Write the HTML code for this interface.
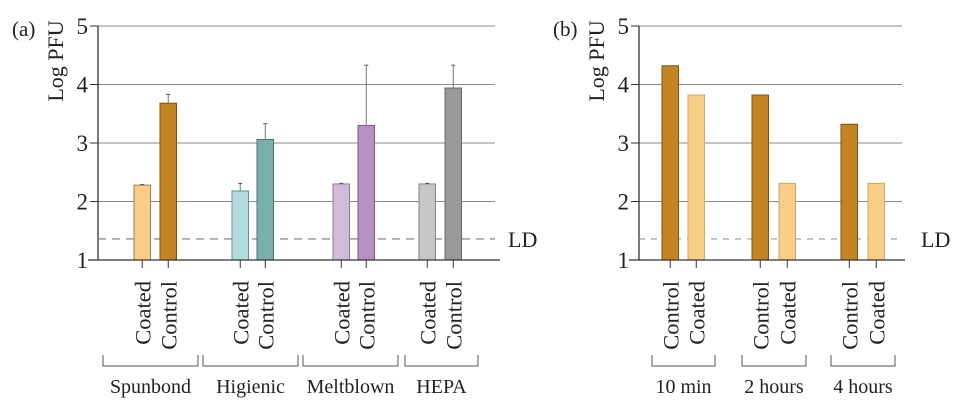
<!DOCTYPE html>
<html><head><meta charset="utf-8"><style>
html,body{margin:0;padding:0;background:#fff;}
svg{display:block;font-family:"Liberation Serif",serif;}
</style></head><body>
<svg id="c" width="960" height="409"></svg>
<script>
const catsA = ["Spunbond","Higienic","Meltblown","HEPA"];
const coatedA = [2.28, 2.18, 2.30, 2.30];
const coatedErrA = [2.29, 2.31, 2.31, 2.31];
const controlA = [3.68, 3.06, 3.30, 3.94];
const controlErrA = [3.83, 3.33, 4.33, 4.33];
const catsB = ["10 min","2 hours","4 hours"];
const controlB = [4.32, 3.82, 3.32];
const coatedB = [3.82, 2.31, 2.31];
const yTicks = [1,2,3,4,5];
const LD = 1.36;

const NS="http://www.w3.org/2000/svg";
const svg=document.getElementById('c');
function mk(tag,attrs,parent){const e=document.createElementNS(NS,tag);for(const k in attrs)e.setAttribute(k,attrs[k]);(parent||svg).appendChild(e);return e;}
const y=v=>260-(v-1)*58.5;

function panel(opt){
  const g=mk('g',{});
  
  
  yTicks.forEach(t=>{
    if(t>1){const l=mk('line',{x1:opt.ax,x2:opt.gx2,y1:y(t),y2:y(t),stroke:'#8a8a8a','stroke-width':1},g);
      }
    const tk=mk('line',{x1:opt.ax-8,x2:opt.ax,y1:y(t),y2:y(t),stroke:'#333','stroke-width':1},g);
    
    const tx=mk('text',{x:opt.ax-10,y:y(t)+8,'text-anchor':'end','font-size':23,fill:'#222'},g);
    tx.textContent=t;
    
  });
  const ya=mk('line',{x1:opt.ax,x2:opt.ax,y1:26,y2:260,stroke:'#333','stroke-width':1.3},g);
  
  const yt=mk('text',{transform:`translate(${opt.ax-35},${61}) rotate(-90)`,'text-anchor':'middle','font-size':22,fill:'#222'},g);
  yt.textContent='Log PFU';
  
  const pl=mk('text',{x:opt.ax-86,y:36,'font-size':21,fill:'#222'},g);
  pl.textContent=opt.label;
  
  const ld=mk('line',{x1:opt.ax,x2:opt.gx2,y1:y(LD),y2:y(LD),stroke:opt.ldColor,'stroke-width':1.2,'stroke-dasharray':opt.dash},g);
  
  const ldt=mk('text',{x:opt.gx2+opt.ldOff,y:y(LD)+8,'font-size':22,fill:'#222'},g);
  ldt.textContent='LD';
  
  opt.groups.forEach((grp,i)=>{
    grp.bars.forEach(b=>{
      const r=mk('rect',{x:b.x,y:y(b.v),width:16.5,height:260-y(b.v),fill:b.fill,stroke:b.stroke,'stroke-width':1},g);
      
      const cx=b.x+8.25;
      if(b.e!=null){
        const el=mk('line',{x1:cx,x2:cx,y1:y(b.e),y2:y(b.v),stroke:'#777','stroke-width':1},g);
        
        const ec=mk('line',{x1:cx-2,x2:cx+2,y1:y(b.e),y2:y(b.e),stroke:'#555','stroke-width':1},g);
        
      }
      const t=mk('line',{x1:cx,x2:cx,y1:260,y2:268,stroke:'#333','stroke-width':1},g);
      
      const lt=mk('text',{transform:`translate(${cx+8},281) rotate(-90)`,'text-anchor':'end','font-size':22.5,fill:'#222'},g);
      lt.textContent=b.lab;
      
    });
    const [bx1,bx2]=grp.br;
    const br=mk('path',{d:`M${bx1},355 V366 H${bx2} V355`,fill:'none',stroke:'#555','stroke-width':1},g);
    
    const gt=mk('text',{x:(bx1+bx2)/2,y:393,'text-anchor':'middle','font-size':20,fill:'#222'},g);
    gt.textContent=grp.name;
    
  });
  const xa=mk('line',{x1:opt.ax-10,x2:opt.xx2,y1:260,y2:260,stroke:'#333','stroke-width':1.3},g);
  
}

const colA=[['#f9cd86','#c58422'],['#b2dcdb','#79afad'],['#d1bbdb','#b690c2'],['#c6c6c4','#999999']];
const strA=[['#a07d4a','#7a5214'],['#6f8e8d','#4c7372'],['#8f7b98','#7a5b86'],['#868684','#666']];
const xsA=[[134,160],[232,257],[333,358],[419,445]];
const brA=[[103,198],[203,298],[303,398],[405,478]];
panel({name:'panel-a',label:'(a)',ax:98,gx2:495,xx2:500,ldColor:'#777',dash:'8,6',ldOff:13,
  groups:catsA.map((c,i)=>({name:c,br:brA[i],bars:[
    {x:xsA[i][0],v:coatedA[i],e:coatedErrA[i],fill:colA[i][0],stroke:strA[i][0],lab:'Coated'},
    {x:xsA[i][1],v:controlA[i],e:controlErrA[i],fill:colA[i][1],stroke:strA[i][1],lab:'Control'}]}))});

const xsB=[[662,688],[752,779],[841,868]];
const brB=[[652,715],[742,806],[831,895]];
panel({name:'panel-b',label:'(b)',ax:639,gx2:902,xx2:905,ldColor:'#999',dash:'6,6',ldOff:19,
  groups:catsB.map((c,i)=>({name:c,br:brB[i],bars:[
    {x:xsB[i][0],v:controlB[i],e:null,fill:'#c58422',stroke:'#7a5214',lab:'Control'},
    {x:xsB[i][1],v:coatedB[i],e:null,fill:'#f9cd86',stroke:'#c9a870',lab:'Coated'}]}))});
</script>
</body></html>
